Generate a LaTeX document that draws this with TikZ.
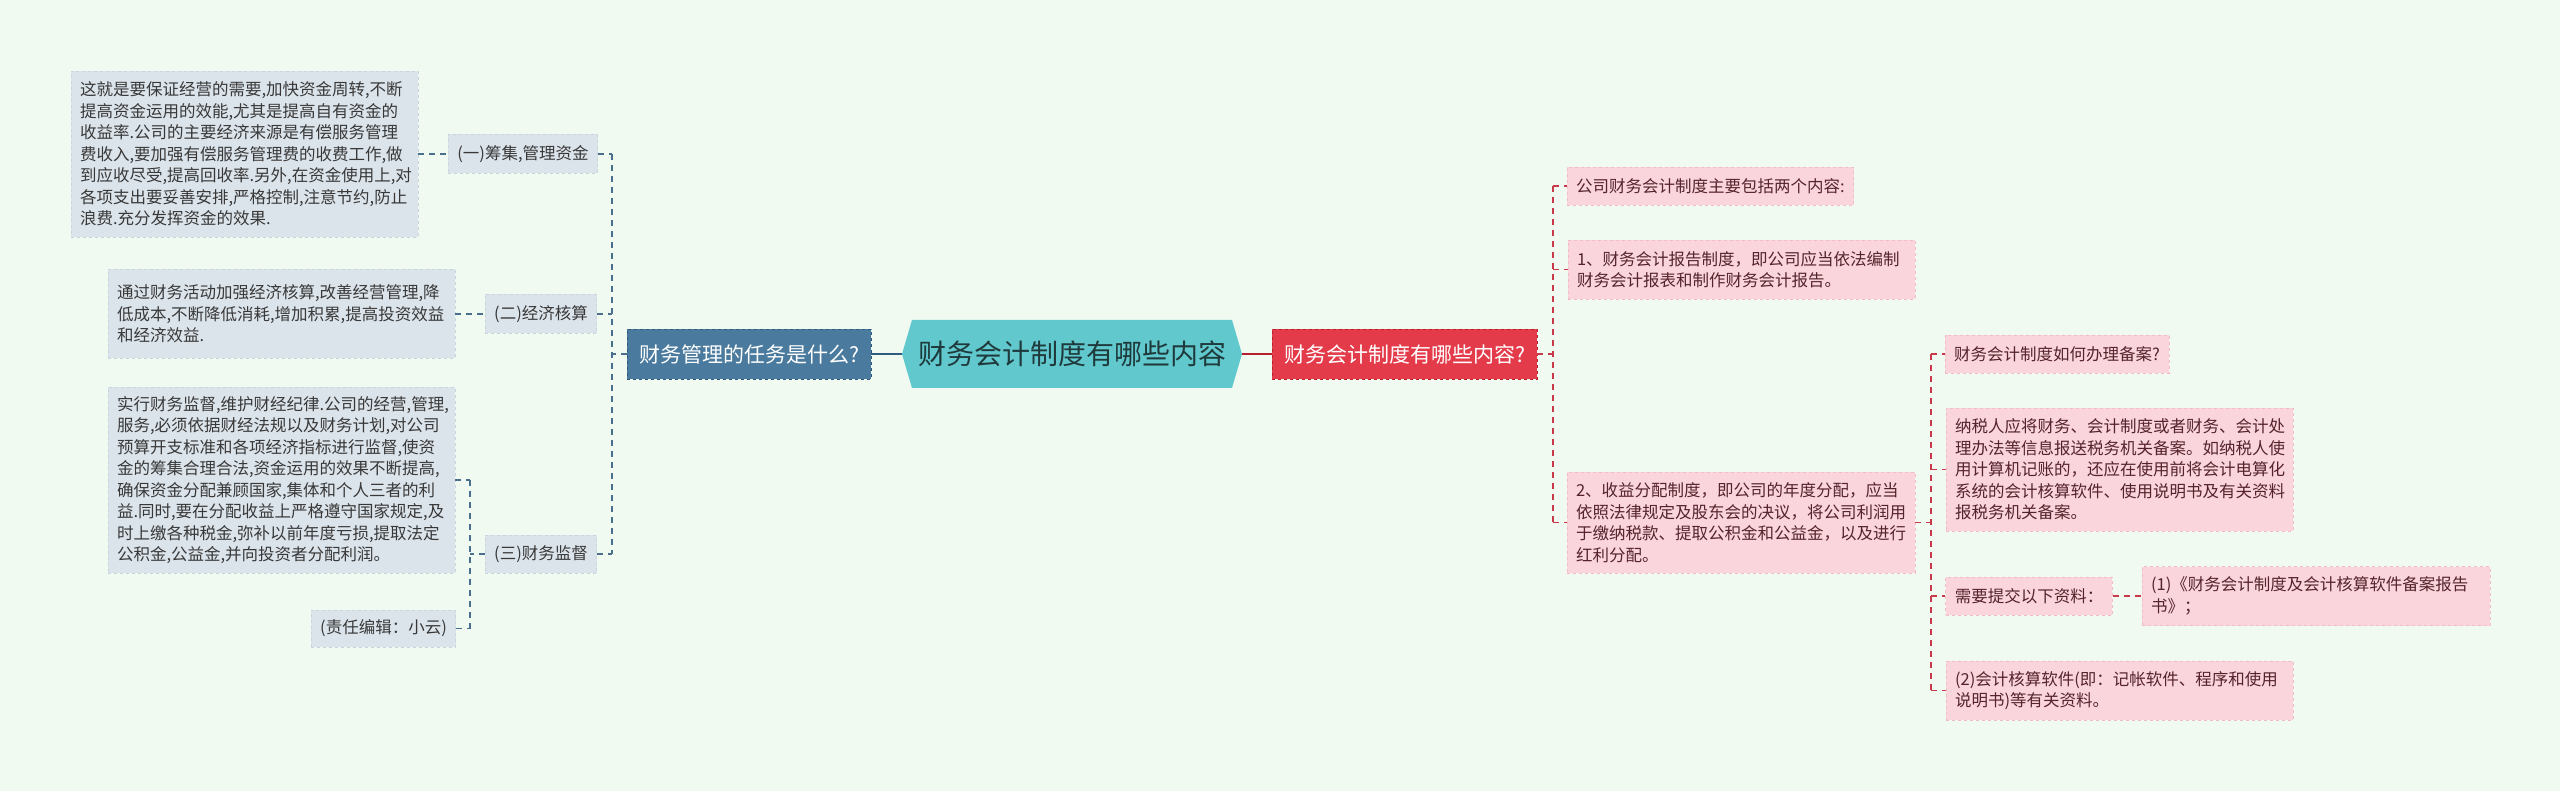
\documentclass[tikz,border=0pt]{standalone}
\usepackage{fontspec}
\setmainfont{Noto Sans CJK SC}
\definecolor{bgc}{HTML}{F1FAF1}
\definecolor{lfill}{HTML}{DCE4EB}
\definecolor{lbord}{HTML}{C9D5DE}
\definecolor{ltext}{HTML}{383838}
\definecolor{lconnc}{HTML}{4A6F8C}
\definecolor{bfill}{HTML}{4A7A9D}
\definecolor{bbord}{HTML}{2E5C80}
\definecolor{hfill}{HTML}{61C9CD}
\definecolor{htext}{HTML}{1F3A3C}
\definecolor{rfill}{HTML}{E33B4A}
\definecolor{rbord}{HTML}{B81F2E}
\definecolor{pfill}{HTML}{FAD5DB}
\definecolor{pbord}{HTML}{F2BCC5}
\definecolor{ptext}{HTML}{55232C}
\definecolor{rconnc}{HTML}{C83A4A}
\tikzset{
  base/.style={inner xsep=9pt, inner ysep=0pt, font=\fontsize{16.5}{21.5}\selectfont},
  lbox/.style={base, fill=lfill, draw=lbord, dashed, line width=0.8pt, text=ltext, align=left},
  pbox/.style={base, fill=pfill, draw=pbord, dashed, line width=0.8pt, text=ptext, align=left},
  lconn/.style={draw=lconnc, line width=1.4pt, dash pattern=on 6pt off 5pt},
  rconn/.style={draw=rconnc, line width=1.4pt, dash pattern=on 6pt off 5pt},
  bigbox/.style={inner xsep=9pt, inner ysep=0pt, font=\fontsize{21}{26}\selectfont, text=white, dashed, line width=0.9pt, align=center}
}
\begin{document}
\begin{tikzpicture}[x=1pt,y=-1pt]
\fill[bgc] (0,0) rectangle (2560,791);
\useasboundingbox (0,0) rectangle (2560,791);
% left side nodes
\node[lbox, text width=329pt, minimum height=166pt] (a) at (244.5,154) {这就是要保证经营的需要,加快资金周转,不断\\提高资金运用的效能,尤其是提高自有资金的\\收益率.公司的主要经济来源是有偿服务管理\\费收入,要加强有偿服务管理费的收费工作,做\\到应收尽受,提高回收率.另外,在资金使用上,对\\各项支出要妥善安排,严格控制,注意节约,防止\\浪费.充分发挥资金的效果.};
\node[lbox, text width=329pt, minimum height=89pt] (b) at (281.5,314) {通过财务活动加强经济核算,改善经营管理,降\\低成本,不断降低消耗,增加积累,提高投资效益\\和经济效益.};
\node[lbox, text width=329pt, minimum height=186pt] (c) at (281.5,480) {实行财务监督,维护财经纪律.公司的经营,管理,\\服务,必须依据财经法规以及财务计划,对公司\\预算开支标准和各项经济指标进行监督,使资\\金的筹集合理合法,资金运用的效果不断提高,\\确保资金分配兼顾国家,集体和个人三者的利\\益.同时,要在分配收益上严格遵守国家规定,及\\时上缴各种税金,弥补以前年度亏损,提取法定\\公积金,公益金,并向投资者分配利润。};
\node[lbox, align=center, minimum width=143pt, minimum height=37pt] (ed) at (383.5,628.5) {(责任编辑：小云)};
\node[lbox, align=center, minimum width=148pt, minimum height=39pt] (g1) at (523,154) {(一)筹集,管理资金};
\node[lbox, align=center, minimum width=110pt, minimum height=39pt] (g2) at (541,314) {(二)经济核算};
\node[lbox, align=center, minimum width=110pt, minimum height=38pt] (g3) at (541,554) {(三)财务监督};
\node[bigbox, fill=bfill, draw=bbord, minimum width=244pt, minimum height=50pt] (blue) at (749,354) {财务管理的任务是什么?};
% centre
\fill[hfill] (912,320) -- (1232,320) -- (1242,354) -- (1232,388) -- (912,388) -- (902,354) -- cycle;
\node[inner sep=0pt, minimum width=340pt, minimum height=68pt, font=\fontsize{28}{32}\selectfont, text=htext] (hex) at (1072,354) {财务会计制度有哪些内容};
\node[bigbox, fill=rfill, draw=rbord, minimum width=265pt, minimum height=50pt] (red) at (1404.5,354) {财务会计制度有哪些内容?};
% right side nodes
\node[pbox, minimum width=285pt, minimum height=38pt] (p1) at (1710.5,186) {公司财务会计制度主要包括两个内容:};
\node[pbox, text width=329pt, minimum height=59pt] (p2) at (1741.5,269.5) {1、财务会计报告制度，即公司应当依法编制\\财务会计报表和制作财务会计报告。};
\node[pbox, text width=330pt, minimum height=101pt] (p3) at (1741,522.5) {2、收益分配制度，即公司的年度分配，应当\\依照法律规定及股东会的决议，将公司利润用\\于缴纳税款、提取公积金和公益金，以及进行\\红利分配。};
\node[pbox, minimum width=222pt, minimum height=38pt] (q1) at (2057,354) {财务会计制度如何办理备案?};
\node[pbox, text width=329pt, minimum height=123pt] (q2) at (2119.5,469.5) {纳税人应将财务、会计制度或者财务、会计处\\理办法等信息报送税务机关备案。如纳税人使\\用计算机记账的，还应在使用前将会计电算化\\系统的会计核算软件、使用说明书及有关资料\\报税务机关备案。};
\node[pbox, minimum width=166pt, minimum height=38pt] (q3) at (2029,596) {需要提交以下资料：};
\node[pbox, text width=330pt, minimum height=59pt] (q5) at (2316,596) {(1)《财务会计制度及会计核算软件备案报告\\书》；};
\node[pbox, text width=329pt, minimum height=59pt] (q4) at (2119.5,690.5) {(2)会计核算软件(即：记帐软件、程序和使用\\说明书)等有关资料。};
% connectors left
\coordinate (lt) at (612,354);
\draw[lconn] (blue.west) -- (lt);
\draw[lconn] (lt |- g1.east) -- (lt |- g3.east);
\draw[lconn] (g1.east) -- (lt |- g1.east);
\draw[lconn] (g2.east) -- (lt |- g2.east);
\draw[lconn] (g3.east) -- (lt |- g3.east);
\draw[lconn] (a.east) -- (g1.west);
\draw[lconn] (b.east) -- (g2.west);
\coordinate (lt3) at (470,554);
\draw[lconn] (g3.west) -- (lt3);
\draw[lconn] (lt3 |- c.east) -- (lt3 |- ed.east);
\draw[lconn] (c.east) -- (lt3 |- c.east);
\draw[lconn] (ed.east) -- (lt3 |- ed.east);
% centre connectors
\draw[draw=bbord, line width=2pt] (blue.east) -- (hex.west);
\draw[draw=rbord, line width=2pt] (hex.east) -- (red.west);
% connectors right
\coordinate (rt) at (1553,354);
\draw[rconn] (red.east) -- (rt);
\draw[rconn] (rt |- p1.west) -- (rt |- p3.west);
\draw[rconn] (rt |- p1.west) -- (p1.west);
\draw[rconn] (rt |- p2.west) -- (p2.west);
\draw[rconn] (rt |- p3.west) -- (p3.west);
\coordinate (rt2) at (1931,522.5);
\draw[rconn] (p3.east) -- (rt2);
\draw[rconn] (rt2 |- q1.west) -- (rt2 |- q4.west);
\draw[rconn] (rt2 |- q1.west) -- (q1.west);
\draw[rconn] (rt2 |- q2.west) -- (q2.west);
\draw[rconn] (rt2 |- q3.west) -- (q3.west);
\draw[rconn] (rt2 |- q4.west) -- (q4.west);
\draw[rconn] (q3.east) -- (q5.west);
\end{tikzpicture}
\end{document}
